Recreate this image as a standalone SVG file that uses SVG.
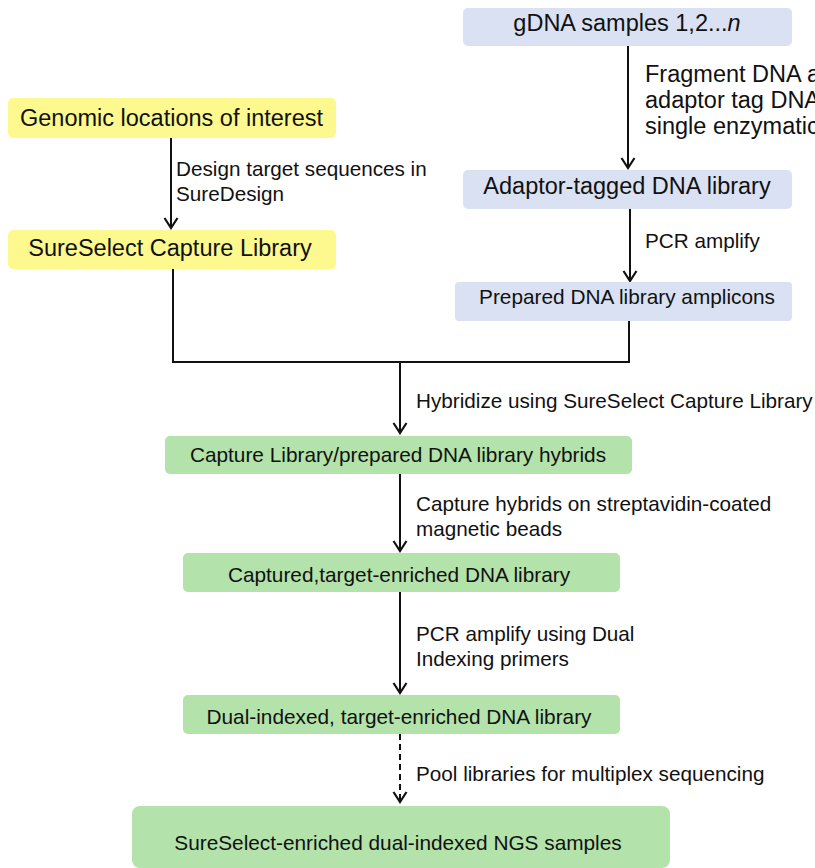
<svg xmlns="http://www.w3.org/2000/svg" width="815" height="868" viewBox="0 0 815 868">
<defs>
<style>
.t{font-family:"Liberation Sans",Arial,sans-serif;fill:#111}
.big{font-size:23.5px}
.mid{font-size:20.8px}
.lbl{font-size:20.7px}
.blue{fill:#d9e1f2}
.yel{fill:#fdf98e}
.grn{fill:#b3e2ab}
.ln{stroke:#111;stroke-width:2;fill:none}
</style>
<marker id="ah" viewBox="0 0 13 16" refX="11.5" refY="8" markerWidth="13" markerHeight="16" markerUnits="userSpaceOnUse" orient="auto">
<path d="M1.5,1.5 L11.5,8 L1.5,14.5" fill="none" stroke="#111" stroke-width="2.2"/>
</marker>
</defs>
<rect width="815" height="868" fill="#fff"/>

<g id="connectors">
<line class="ln" x1="628" y1="46" x2="628" y2="168" marker-end="url(#ah)"/>
<line class="ln" x1="171" y1="138" x2="171" y2="228" marker-end="url(#ah)"/>
<line class="ln" x1="630" y1="209" x2="630" y2="281" marker-end="url(#ah)"/>
<polyline class="ln" points="173,269 173,362 629,362 629,321"/>
<line class="ln" x1="400" y1="362" x2="400" y2="433" marker-end="url(#ah)"/>
<line class="ln" x1="400" y1="474" x2="400" y2="551" marker-end="url(#ah)"/>
<line class="ln" x1="400" y1="592" x2="400" y2="693" marker-end="url(#ah)"/>
<line class="ln" x1="400" y1="734" x2="400" y2="802" stroke-dasharray="6,4" marker-end="url(#ah)"/>
<text class="t big" x="645" y="82">Fragment DNA a</text>
<text class="t big" x="645" y="108">adaptor tag DNA</text>
<text class="t big" x="645" y="134">single enzymatic</text>
<text class="t lbl" x="176" y="176">Design target sequences in</text>
<text class="t lbl" x="176" y="201">SureDesign</text>
<text class="t lbl" x="645" y="248">PCR amplify</text>
<text class="t lbl" x="416" y="408">Hybridize using SureSelect Capture Library</text>
<text class="t lbl" x="416" y="511">Capture hybrids on streptavidin-coated</text>
<text class="t lbl" x="416" y="536">magnetic beads</text>
<text class="t lbl" x="416" y="641">PCR amplify using Dual</text>
<text class="t lbl" x="416" y="666">Indexing primers</text>
<text class="t lbl" x="416" y="781">Pool libraries for multiplex sequencing</text>
</g>

<g id="gdna">
<rect class="blue" x="463" y="8" width="329" height="38" rx="5"/>
<text class="t big" x="627" y="31" text-anchor="middle">gDNA samples 1,2...<tspan font-style="italic">n</tspan></text>
</g>
<g id="genomic">
<rect class="yel" x="8" y="98" width="328" height="40" rx="5"/>
<text class="t big" x="20" y="126">Genomic locations of interest</text>
</g>
<g id="capturelib">
<rect class="yel" x="8" y="230" width="328" height="39" rx="5"/>
<text class="t big" x="170" y="256" text-anchor="middle">SureSelect Capture Library</text>
</g>
<g id="adaptor">
<rect class="blue" x="463" y="170" width="329" height="39" rx="5"/>
<text class="t big" x="627" y="194" text-anchor="middle">Adaptor-tagged DNA library</text>
</g>
<g id="prepared">
<rect class="blue" x="455" y="282" width="337" height="39" rx="4"/>
<text class="t mid" x="627" y="304" text-anchor="middle">Prepared DNA library amplicons</text>
</g>
<g id="hybrids">
<rect class="grn" x="165" y="436" width="467" height="38" rx="5"/>
<text class="t mid" x="398" y="462" text-anchor="middle">Capture Library/prepared DNA library hybrids</text>
</g>
<g id="captured">
<rect class="grn" x="183" y="553" width="437" height="39" rx="5"/>
<text class="t mid" x="399" y="582" text-anchor="middle">Captured,target-enriched DNA library</text>
</g>
<g id="dual">
<rect class="grn" x="183" y="695" width="437" height="39" rx="5"/>
<text class="t mid" x="399" y="724" text-anchor="middle">Dual-indexed, target-enriched DNA library</text>
</g>
<g id="ngs">
<rect class="grn" x="132" y="806" width="538" height="62" rx="8"/>
<text class="t mid" x="398" y="850" text-anchor="middle">SureSelect-enriched dual-indexed NGS samples</text>
</g>
</svg>
